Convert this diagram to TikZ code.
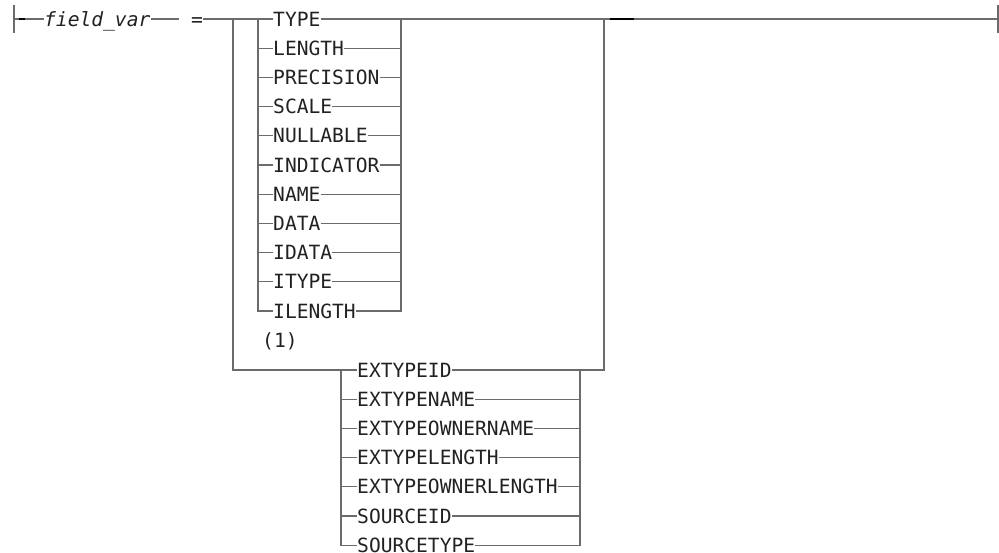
\documentclass[tikz,border=0pt]{standalone}
\usepackage{fontspec}
\newfontfamily\railfont{DejaVu Sans Mono}
\usetikzlibrary{calc}
\definecolor{railgray}{gray}{0.42}
\definecolor{inkgray}{gray}{0.13}

\begin{document}
\begin{tikzpicture}[x=1pt,y=-1pt,
  rail/.style={railgray,line width=1.2pt},
  tick/.style={black,line width=1.4pt},
  kw/.style={inkgray,font=\railfont\fontsize{19.6}{20}\selectfont,inner sep=0pt,anchor=west,text height=14pt,text depth=0pt}]
\useasboundingbox (0,0) rectangle (999,552);
% junction points of the rails
\coordinate (st) at (14,19);
\coordinate (outl) at (233,19);
\coordinate (inl) at (258,19);
\coordinate (inr) at (401,19);
\coordinate (outr) at (604,19);
\coordinate (exl) at (341,370);
\coordinate (exr) at (580,370);
\coordinate (fin) at (998,19);
% variable name and keywords
\node[kw] (fv) at (44,19) {\itshape field\_var};
\node[kw] (eq) at (179,19) {\ =};
\node[kw] (typ) at (273,19) {TYPE};
\node[kw] (len) at (273,48.2) {LENGTH};
\node[kw] (prec) at (273,77.4) {PRECISION};
\node[kw] (scl) at (273,106.6) {SCALE};
\node[kw] (nul) at (273,135.8) {NULLABLE};
\node[kw] (ind) at (273,165) {INDICATOR};
\node[kw] (nam) at (273,194.2) {NAME};
\node[kw] (dat) at (273,223.4) {DATA};
\node[kw] (idat) at (273,252.6) {IDATA};
\node[kw] (ityp) at (273,281.8) {ITYPE};
\node[kw] (ilen) at (273,311) {ILENGTH};
\node[kw] (note) at (262,340.5) {(1)};
\node[kw] (exid) at (357,370) {EXTYPEID};
\node[kw] (exnam) at (357,399.2) {EXTYPENAME};
\node[kw] (exonam) at (357,428.4) {EXTYPEOWNERNAME};
\node[kw] (exlen) at (357,457.6) {EXTYPELENGTH};
\node[kw] (exolen) at (357,486.8) {EXTYPEOWNERLENGTH};
\node[kw] (srcid) at (357,516) {SOURCEID};
\node[kw] (srctyp) at (357,545.2) {SOURCETYPE};
% main line
\draw[rail] ([yshift=-14pt]st) -- ([yshift=14pt]st);
\draw[rail] (st) -- (fv.west);
\draw[tick] ([xshift=5pt]st) -- ([xshift=11pt]st);
\draw[rail] (fv.east) -- (eq.west);
\draw[rail] (eq.east) -- (typ.west);
\draw[rail] (typ.east) -- (fin);
\draw[tick] ([xshift=6pt]outr) -- ([xshift=30pt]outr);
\draw[rail] ([yshift=-14pt]fin) -- ([yshift=14pt]fin);
% first choice group
\draw[rail] (inl) |- (ilen.west);
\draw[rail] (ilen.east) -| (inr);
\draw[rail] (len.west -| inl) -- (len.west);
\draw[rail] (len.east) -- (len.east -| inr);
\draw[rail] (prec.west -| inl) -- (prec.west);
\draw[rail] (prec.east) -- (prec.east -| inr);
\draw[rail] (scl.west -| inl) -- (scl.west);
\draw[rail] (scl.east) -- (scl.east -| inr);
\draw[rail] (nul.west -| inl) -- (nul.west);
\draw[rail] (nul.east) -- (nul.east -| inr);
\draw[rail] (ind.west -| inl) -- (ind.west);
\draw[rail] (ind.east) -- (ind.east -| inr);
\draw[rail] (nam.west -| inl) -- (nam.west);
\draw[rail] (nam.east) -- (nam.east -| inr);
\draw[rail] (dat.west -| inl) -- (dat.west);
\draw[rail] (dat.east) -- (dat.east -| inr);
\draw[rail] (idat.west -| inl) -- (idat.west);
\draw[rail] (idat.east) -- (idat.east -| inr);
\draw[rail] (ityp.west -| inl) -- (ityp.west);
\draw[rail] (ityp.east) -- (ityp.east -| inr);
% outer loop and second choice group
\draw[rail] (outl) |- (exid.west);
\draw[rail] (exid.east) -| (outr);
\draw[rail] (exl) |- (srctyp.west);
\draw[rail] (srctyp.east) -| (exr);
\draw[rail] (exnam.west -| exl) -- (exnam.west);
\draw[rail] (exnam.east) -- (exnam.east -| exr);
\draw[rail] (exonam.west -| exl) -- (exonam.west);
\draw[rail] (exonam.east) -- (exonam.east -| exr);
\draw[rail] (exlen.west -| exl) -- (exlen.west);
\draw[rail] (exlen.east) -- (exlen.east -| exr);
\draw[rail] (exolen.west -| exl) -- (exolen.west);
\draw[rail] (exolen.east) -- (exolen.east -| exr);
\draw[rail] (srcid.west -| exl) -- (srcid.west);
\draw[rail] (srcid.east) -- (srcid.east -| exr);
\end{tikzpicture}
\end{document}
